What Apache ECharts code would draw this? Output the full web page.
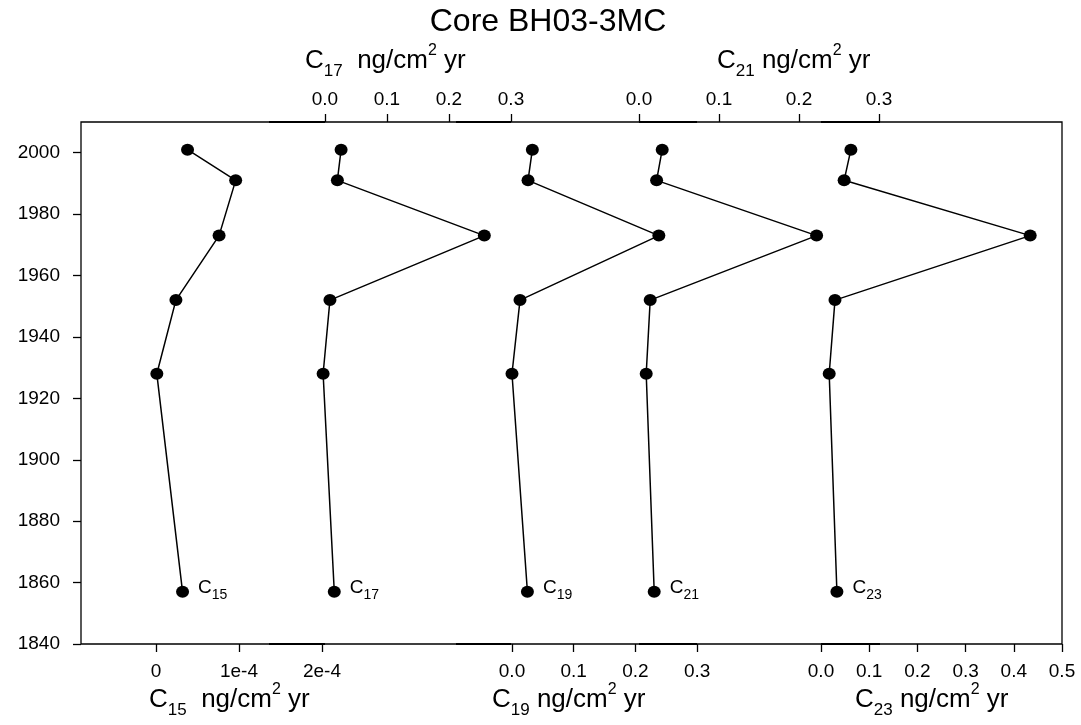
<!DOCTYPE html>
<html>
<head>
<meta charset="utf-8">
<script src="https://cdn.jsdelivr.net/npm/echarts@6/dist/echarts.min.js"></script>
<style>html,body{margin:0;padding:0;background:#fff;}#chart{width:1081px;height:725px;}</style>
</head>
<body>
<div id="chart"></div>
<script>
// ---- data ----
const years = [2001, 1991, 1973, 1952, 1928, 1857];
const c15 = [0.38e-4, 0.96e-4, 0.76e-4, 0.24e-4, 0.01e-4, 0.32e-4];
const c17 = [0.026, 0.020, 0.257, 0.008, -0.003, 0.015];
const c19 = [0.033, 0.026, 0.238, 0.013, 0.000, 0.025];
const c21 = [0.029, 0.022, 0.222, 0.014, 0.009, 0.019];
const c23 = [0.062, 0.048, 0.434, 0.029, 0.017, 0.033];
const seriesNames = ['15', '17', '19', '21', '23'];
const yearTicks = [1840, 1860, 1880, 1900, 1920, 1940, 1960, 1980, 2000];
const c15Ticks = [0, 1e-4, 2e-4];
const c15TickLabels = ['0', '1e-4', '2e-4'];
const c17Ticks = [0, 0.1, 0.2, 0.3];
const c19Ticks = [0, 0.1, 0.2, 0.3];
const c21Ticks = [0, 0.1, 0.2, 0.3];
const c23Ticks = [0, 0.1, 0.2, 0.3, 0.4, 0.5];
const decimalLabels = ['0.0', '0.1', '0.2', '0.3', '0.4', '0.5'];

// ---- chart ----
const FONT = "'Liberation Sans', Arial, sans-serif";
const chart = echarts.init(document.getElementById('chart'), null, {renderer: 'canvas'});
const G = {left: 81, right: 19, top: 122, bottom: 81};

const allData = [c15, c17, c19, c21, c23];
const axisDefs = [
  {pos: 'bottom', min: -0.9036e-4, max: 10.916e-4, ticks: c15Ticks, labels: c15TickLabels},
  {pos: 'top', min: -0.3935, max: 1.1887, ticks: c17Ticks, labels: decimalLabels},
  {pos: 'bottom', min: -0.6985, max: 0.8914, ticks: c19Ticks, labels: decimalLabels},
  {pos: 'top', min: -0.6975, max: 0.52875, ticks: c21Ticks, labels: decimalLabels},
  {pos: 'bottom', min: -1.5353, max: 0.5, ticks: c23Ticks, labels: decimalLabels}
];

const grids = axisDefs.map((d, i) => Object.assign({}, G, {
  show: i === 0, borderColor: '#000', borderWidth: 1.3, backgroundColor: 'transparent', containLabel: false
}));

const xAxes = axisDefs.map((d, i) => ({
  type: 'value', gridIndex: i, position: d.pos, min: d.min, max: d.max,
  splitLine: {show: false},
  axisLine: {show: false, onZero: false},
  axisTick: {show: true, customValues: d.ticks, length: 8, lineStyle: {color: '#000', width: 1.3}},
  axisLabel: {
    show: true, customValues: d.ticks, color: '#000', fontFamily: FONT, fontSize: 19, margin: d.pos === 'bottom' ? 18 : 13,
    formatter: function (v) {
      let k = d.ticks.findIndex(t => Math.abs(t - v) < 1e-9);
      return k >= 0 ? d.labels[k] : '';
    }
  }
}));

const yAxes = axisDefs.map((d, i) => ({
  type: 'value', gridIndex: i, min: 1840, max: 2010, show: i === 0,
  splitLine: {show: false},
  axisLine: {show: false, onZero: false},
  axisTick: {show: true, customValues: yearTicks, length: 8, lineStyle: {color: '#000', width: 1.3}},
  axisLabel: {show: true, customValues: yearTicks, color: '#000', fontFamily: FONT, fontSize: 19, margin: 21,
    formatter: function (v) { return String(v); }}
}));

const series = allData.map((arr, i) => ({
  type: 'line', xAxisIndex: i, yAxisIndex: i,
  symbol: 'circle', symbolSize: [13, 12],
  itemStyle: {color: '#000'},
  lineStyle: {color: '#000', width: 1.5},
  animation: false,
  z: 5,
  data: arr.map((v, j) => {
    const item = {value: [v, years[j]]};
    if (j === arr.length - 1) {
      item.label = {
        show: true, position: 'right', distance: 9, offset: [0, -4],
        formatter: '{c|C}{s|' + seriesNames[i] + '}',
        rich: {
          c: {fontFamily: FONT, fontSize: 19, color: '#000', lineHeight: 28},
          s: {fontFamily: FONT, fontSize: 14, color: '#000', lineHeight: 14, verticalAlign: 'bottom'}
        }
      };
    }
    return item;
  })
}));

function axisTitle(sub, x, y, gap) {
  return {
    type: 'text', x: x, y: y, z: 10,
    style: {
      text: '{a|C}{b|' + sub + '}{a|' + gap + 'ng/cm}{c|2}{a| yr}',
      textVerticalAlign: 'middle', textAlign: 'left',
      rich: {
        a: {fontFamily: FONT, fontSize: 26, fill: '#000', lineHeight: 37},
        b: {fontFamily: FONT, fontSize: 17, fill: '#000', lineHeight: 17, verticalAlign: 'bottom'},
        c: {fontFamily: FONT, fontSize: 16, fill: '#000', lineHeight: 16, verticalAlign: 'top'}
      }
    }
  };
}

// slightly heavier overlapping axis-line segments along the frame (decoration)
const heavySegs = [[269, 325], [456, 511], [639, 697], [821, 880]];
const segGraphics = [];
heavySegs.forEach(s => {
  [122, 644].forEach(yy => {
    segGraphics.push({type: 'line', z: 20, shape: {x1: s[0], y1: yy, x2: s[1], y2: yy}, style: {stroke: '#000', lineWidth: 2.2}});
  });
});

chart.setOption({
  animation: false,
  backgroundColor: '#fff',
  grid: grids,
  xAxis: xAxes,
  yAxis: yAxes,
  series: series,
  graphic: [
    {type: 'text', x: 548, y: 22, style: {text: 'Core BH03-3MC', fontFamily: FONT, fontSize: 32, fill: '#000', textAlign: 'center', textVerticalAlign: 'middle'}},
    axisTitle('17', 305, 61, '  '),
    axisTitle('21', 717, 61, ' '),
    axisTitle('15', 149, 700, '  '),
    axisTitle('19', 492, 700, ' '),
    axisTitle('23', 855, 700, ' ')
  ].concat(segGraphics)
});
</script>
</body>
</html>
